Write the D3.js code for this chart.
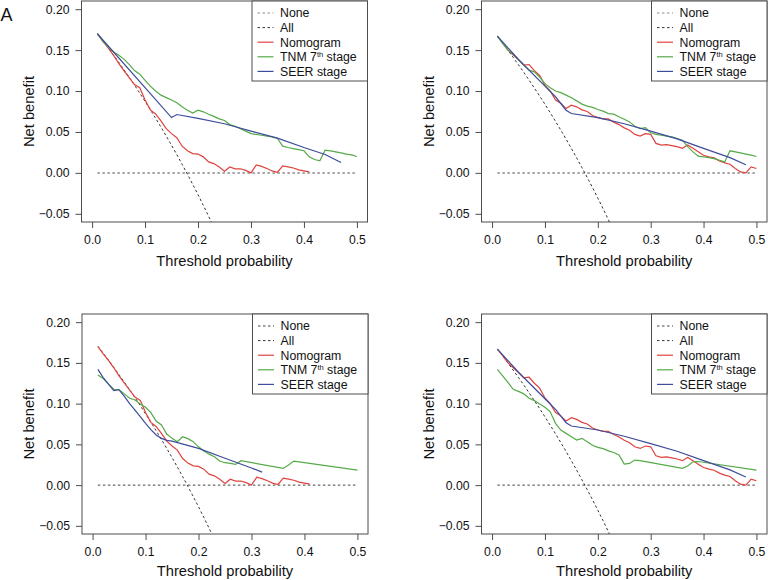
<!DOCTYPE html>
<html><head><meta charset="utf-8">
<script src="https://cdn.jsdelivr.net/npm/d3@7"></script>
<style>
body{margin:0;background:#fff}
svg{display:block}
text{font-family:"Liberation Sans",Arial,Helvetica,sans-serif;fill:#111}
</style>
</head><body><svg id="c" width="768" height="580"></svg>
<script>
// ---------- data ----------
const thresholds = [0.01,0.02,0.03,0.04,0.05,0.06,0.07,0.08,0.09,0.10,
  0.11,0.12,0.13,0.14,0.15,0.16,0.17,0.18,0.19,0.20,
  0.21,0.22,0.23,0.24,0.25,0.26,0.27,0.28,0.29,0.30,
  0.31,0.32,0.33,0.34,0.35,0.36,0.37,0.38,0.39,0.40,
  0.41,0.42,0.43,0.44,0.45,0.46,0.47,0.48,0.49,0.50];
const xTicks = [0, 0.1, 0.2, 0.3, 0.4, 0.5];
const yTicks = [-0.05, 0, 0.05, 0.10, 0.15, 0.20];
const legendLabels = ["None", "All", "Nomogram", "TNM 7th stage", "SEER stage"];
const noneX = [0.01, 0.50];
const noneY = [0, 0];

// "treat all" curves (left column / right column cohorts)
const allLeft = [0.1704,0.1619,0.1533,0.1445,0.1355,0.1263,0.1169,0.1073,0.0975,0.0874,
  0.0772,0.0667,0.0560,0.0450,0.0338,0.0223,0.0105,-0.0016,-0.0140,-0.0266,
  -0.0396,-0.0530,-0.0666];
const allRight = [0.1671,0.1586,0.1499,0.1410,0.1320,0.1228,0.1133,0.1037,0.0939,0.0838,
  0.0735,0.0630,0.0522,0.0412,0.0299,0.0183,0.0065,-0.0056,-0.0180,-0.0308,
  -0.0438,-0.0572,-0.0709];

// Nomogram
const nomoLeft = [0.170,0.161,0.153,0.144,0.134,0.125,0.1165,0.108,0.104,0.089,
  0.077,0.072,0.0636,0.054,0.048,0.043,0.0326,0.027,0.0236,0.023,
  0.0196,0.0134,0.0114,0.0073,0.002,0.0073,0.005,0.005,0.003,0.000,
  0.0098,0.008,0.0053,0.0024,0.0008,0.0086,0.0073,0.006,0.0037,0.0024,
  0.0012];
const nomoRight = [0.167,0.159,0.150,0.144,0.138,0.1316,0.1324,0.125,0.119,0.107,
  0.100,0.089,0.085,0.0786,0.0827,0.0807,0.077,0.075,0.070,0.0676,
  0.066,0.066,0.062,0.059,0.055,0.052,0.047,0.045,0.048,0.047,
  0.036,0.034,0.0346,0.0334,0.032,0.030,0.034,0.030,0.0257,0.0216,
  0.0196,0.0183,0.0147,0.0122,0.0106,0.0053,0.0012,0.000,0.0073,0.0053];

// TNM 7th stage
const tnmA = [0.170,0.161,0.154,0.148,0.144,0.139,0.1325,0.125,0.1206,0.113,
  0.106,0.100,0.095,0.092,0.089,0.0856,0.0807,0.0766,0.073,0.0766,
  0.0746,0.0717,0.069,0.066,0.064,0.059,0.057,0.054,0.051,0.048,
  0.047,0.046,0.045,0.044,0.042,0.0326,0.031,0.0297,0.0285,0.027,
  0.0196,0.0163,0.0147,0.0277,0.027,0.0257,0.0245,0.023,0.022,0.020];
const tnmB = [0.167,0.158,0.150,0.145,0.138,0.1316,0.1255,0.1235,0.117,0.109,
  0.104,0.100,0.098,0.095,0.0917,0.088,0.084,0.0815,0.080,0.0774,
  0.0754,0.0725,0.0717,0.0685,0.0656,0.0623,0.057,0.054,0.0554,0.049,
  0.047,0.046,0.045,0.044,0.042,0.040,0.032,0.0257,0.0204,0.0196,
  0.0187,0.0175,0.0155,0.0134,0.027,0.0257,0.0245,0.023,0.0216,0.020];
const tnmC = [0.135,0.131,0.124,0.1176,0.117,0.112,0.1066,0.1045,0.0996,0.0955,
  0.089,0.0787,0.0738,0.0627,0.0574,0.0533,0.0594,0.057,0.0533,0.047,
  0.042,0.038,0.0348,0.0295,0.0275,0.0266,0.0254,0.030,null,null,
  null,null,null,null,null,0.0205,0.0246,0.0295,null,null,
  null,null,null,null,null,null,null,null,null,0.0184];
const tnmD = [0.142,0.134,0.126,0.1176,0.115,0.112,0.1066,0.1037,0.0996,0.0955,
  0.090,0.0758,0.0676,0.0635,0.0594,0.0553,0.0574,0.0533,0.049,0.0463,
  0.0447,0.042,0.040,0.037,0.0258,0.0266,0.0307,0.030,null,null,
  null,null,null,null,null,0.0205,0.0234,0.0287,0.029,null,
  null,null,null,null,null,null,null,null,null,0.0184];

// SEER stage (knots)
const seerAx = [0.01,0.15,0.16,0.20,0.25,0.30,0.35,0.40,0.44,0.47];
const seerAy = [0.170,0.0676,0.0713,0.0665,0.060,0.051,0.0425,0.031,0.0225,0.0126];
const seerBx = [0.01,0.05,0.10,0.12,0.14,0.15,0.20,0.25,0.30,0.35,0.40,0.45,0.48];
const seerBy = [0.167,0.1385,0.106,0.093,0.0766,0.0725,0.0676,0.060,0.051,0.0415,0.030,0.0187,0.010];
const seerCx = [0.01,0.02,0.03,0.04,0.05,0.06,0.07,0.08,0.09,0.10,0.11,0.12,0.13,0.14,0.15,0.20,0.25,0.30,0.32];
const seerCy = [0.142,0.132,0.124,0.116,0.117,0.109,0.100,0.092,0.084,0.0758,0.068,0.0615,0.0574,0.055,0.054,0.045,0.033,0.021,0.016];

// ---------- layout ----------
const colors = {all:"#333", nomo:"#e0433f", tnm:"#55aa48", seer:"#3d4c9b"};
const grid = arr => arr.map((v,i)=>[thresholds[i], v]).filter(d=>d[1]!=null);
const knots = (xs, ys) => xs.map((x,i)=>[x, ys[i]]);

const panels = [
  {l:81.5, r:367.5, t:1, b:222, all:allLeft, nomo:nomoLeft, tnm:grid(tnmA), seer:knots(seerAx,seerAy), tag:"A", noneCol:"#8a8a8a", noneW:1.5, xt:44},
  {l:481.5, r:767, t:1, b:222, all:allRight, nomo:nomoRight, tnm:grid(tnmB), seer:knots(seerBx,seerBy), noneCol:"#8a8a8a", noneW:1.5, xt:44},
  {l:82, r:368, t:314, b:534, all:allLeft, nomo:nomoLeft, tnm:grid(tnmC), seer:knots(seerCx,seerCy), noneCol:"#444", noneW:1, xt:42},
  {l:481.5, r:767, t:314, b:534, all:allRight, nomo:nomoRight, tnm:grid(tnmD), seer:knots(seerBx,seerBy), noneCol:"#444", noneW:1, xt:42}
];

const svg = d3.select("#c");

panels.forEach((p, k) => {
  const x = d3.scaleLinear().domain([-0.02, 0.52]).range([p.l, p.r]);
  const y = d3.scaleLinear().domain([-0.06, 0.21]).range([p.b, p.t]);
  const g = svg.append("g");
  const clipId = "clip" + k;
  svg.append("clipPath").attr("id", clipId).append("rect")
    .attr("x", p.l).attr("y", p.t).attr("width", p.r - p.l).attr("height", p.b - p.t);

  const line = d3.line().x(d => x(d[0])).y(d => y(d[1]));
  const plot = g.append("g").attr("clip-path", `url(#${clipId})`);

  plot.append("path").attr("d", line(knots(noneX, noneY)))
    .attr("fill","none").attr("stroke", p.noneCol).attr("stroke-width", p.noneW).attr("stroke-dasharray","2.5,2.5");
  plot.append("path").attr("d", line(grid(p.all)))
    .attr("fill","none").attr("stroke", colors.all).attr("stroke-width", 1).attr("stroke-dasharray","2.5,2.5");
  plot.append("path").attr("d", line(grid(p.nomo)))
    .attr("fill","none").attr("stroke", colors.nomo).attr("stroke-width", 1.2);
  plot.append("path").attr("d", line(p.tnm))
    .attr("fill","none").attr("stroke", colors.tnm).attr("stroke-width", 1.2);
  plot.append("path").attr("d", line(p.seer))
    .attr("fill","none").attr("stroke", colors.seer).attr("stroke-width", 1.2);

  // axes
  const ax = g.append("g").attr("transform", `translate(0,${p.b})`)
    .call(d3.axisBottom(x).tickValues(xTicks).tickSize(6).tickPadding(7).tickFormat(d3.format(".1f")));
  const ay = g.append("g").attr("transform", `translate(${p.l},0)`)
    .call(d3.axisLeft(y).tickValues(yTicks).tickSize(6).tickPadding(6)
      .tickFormat(d => (d < 0 ? "\u2212" : "") + d3.format(".2f")(Math.abs(d))));
  [ax, ay].forEach(a => {
    a.select(".domain").remove();
    a.selectAll("line").attr("stroke", "#4d4d4d");
    a.selectAll("text").attr("font-size", 12.2).attr("fill", "#111")
      .attr("font-family", '"Liberation Sans",Arial,Helvetica,sans-serif');
  });

  // box
  g.append("rect").attr("x", p.l).attr("y", p.t).attr("width", p.r - p.l).attr("height", p.b - p.t)
    .attr("fill","none").attr("stroke","#4d4d4d").attr("stroke-width",1);

  // titles
  g.append("text").attr("x", (p.l + p.r) / 2).attr("y", p.b + p.xt)
    .attr("text-anchor","middle").attr("font-size", 14.7).text("Threshold probability");
  g.append("text").attr("transform", `translate(${p.l - 48},${(p.t + p.b) / 2}) rotate(-90)`)
    .attr("text-anchor","middle").attr("font-size", 14.7).text("Net benefit");

  // legend
  const lw = 115.5, lh = 80;
  const lg = g.append("g").attr("transform", `translate(${p.r - lw},${p.t})`);
  lg.append("rect").attr("width", lw).attr("height", lh).attr("fill","#fff")
    .attr("stroke","#4d4d4d").attr("stroke-width",1);
  const styles = [
    {c:p.noneCol, w:1, dash:"2.5,2.5"},
    {c:colors.all, w:1, dash:"2.5,2.5"},
    {c:colors.nomo, w:1.2, dash:null},
    {c:colors.tnm, w:1.2, dash:null},
    {c:colors.seer, w:1.2, dash:null}
  ];
  legendLabels.forEach((lab, i) => {
    const yy = 12 + i * 14.6;
    lg.append("line").attr("x1", 5.5).attr("x2", 21.5).attr("y1", yy).attr("y2", yy)
      .attr("stroke", styles[i].c).attr("stroke-width", styles[i].w)
      .attr("stroke-dasharray", styles[i].dash);
    const t = lg.append("text").attr("x", 28).attr("y", yy).attr("dy","0.36em").attr("font-size", 12.3);
    if (lab.indexOf("7th") >= 0) {
      t.append("tspan").text("TNM 7");
      t.append("tspan").attr("font-size", 7.5).attr("dy", -4.5).text("th");
      t.append("tspan").attr("dy", 4.5).text(" stage");
    } else {
      t.text(lab);
    }
  });

  if (p.tag) {
    svg.append("text").attr("x", 0.5).attr("y", 21).attr("font-size", 18).text(p.tag);
  }
});
</script>
</body></html>
